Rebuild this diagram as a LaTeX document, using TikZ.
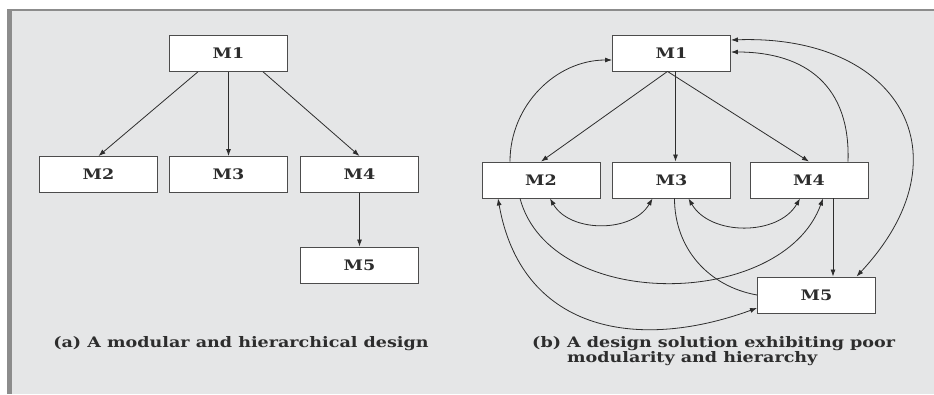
\documentclass[tikz,border=0pt]{standalone}
\usepackage{fontspec}
\setmainfont{DejaVu Serif}
\usepackage{graphicx}
\usetikzlibrary{arrows.meta}
\definecolor{panel-gray}{RGB}{229, 230, 231}
\definecolor{edge-gray}{RGB}{140, 140, 140}
\definecolor{ink}{RGB}{45, 45, 45}
\newcommand{\wide}[1]{\scalebox{1.21}[1]{#1}}

\begin{document}
\begin{tikzpicture}[x=1pt, y=1pt,
    module/.style={draw=ink!85, fill=white, line width=0.9pt, minimum width=118pt,
      minimum height=36pt, inner sep=0pt, font=\fontsize{14.5}{15}\selectfont\bfseries, text=ink},
    call/.style={draw=ink, line width=0.8pt, -{Latex[length=7pt,width=5pt]}},
    mutual/.style={arrows={Latex[length=7pt,width=5pt]-Latex[length=7pt,width=5pt]}},
    caption/.style={font=\fontsize{14.5}{15}\selectfont\bfseries, text=ink, inner sep=0pt}]
  \useasboundingbox (0,0) rectangle (934,-394);
  \fill[white] (0,0) rectangle (934,-394);
  \fill[panel-gray] (7,-10) rectangle (934,-394);
  \fill[edge-gray] (7,-10) rectangle (12,-394);
  \draw[edge-gray, line width=1.2pt] (7,-10) -- (934,-10);

  % (a) modular and hierarchical
  \node[module] (a1) at (228.5,-53.5) {\wide{M1}};
  \node[module] (a2) at (98.5,-174.5) {\wide{M2}};
  \node[module] (a3) at (228.5,-174.5) {\wide{M3}};
  \node[module] (a4) at (359.5,-174.5) {\wide{M4}};
  \node[module] (a5) at (359.5,-265) {\wide{M5}};
  \draw[call] (a1.211) -- (a2.north);
  \draw[call] (a1) -- (a3);
  \draw[call] (a1.332) -- (a4.north);
  \draw[call] (a4) -- (a5);
  \node[caption, anchor=base] (capa) at (241,-347) {\wide{(a) A modular and hierarchical design}};

  % (b) poor modularity
  \node[module] (b1) at (671.5,-53) {\wide{M1}};
  \node[module] (b2) at (541,-180) {\wide{M2}};
  \node[module] (b3) at (671.5,-180) {\wide{M3}};
  \node[module] (b4) at (809,-180) {\wide{M4}};
  \node[module] (b5) at (816.5,-295) {\wide{M5}};
  \draw[call] ([xshift=-4]b1.south) -- (b2.north);
  \draw[call] ([xshift=4]b1.south) -- ([xshift=4]b3.north);
  \draw[call] ([xshift=-4]b1.south) -- (b4.north);
  \draw[call] ([xshift=-31]b2.north) to[out=90, in=180] ([yshift=-7]b1.west);
  \draw[call] ([xshift=39]b4.north) to[out=88, in=0, looseness=1.2] ([yshift=1]b1.east);
  \draw[call, mutual] ([yshift=13]b1.east) to[out=2, in=47, looseness=1.6] ([xshift=40]b5.north);
  \draw[call] ([xshift=24]b4.south) -- ([xshift=24]b4.south |- b5.north);
  \draw[call, mutual] ([xshift=9]b2.south) to[out=-60, in=-120] ([xshift=-19]b3.south);
  \draw[call, mutual] ([xshift=17]b3.south) to[out=-60, in=-120] ([xshift=-9]b4.south);
  \draw[call] ([xshift=-21]b2.south) to[out=-75, in=-110] ([xshift=14]b4.south);
  \draw[call, -] ([xshift=3]b3.south) to[out=-90, in=170] (b5.west);
  \draw[call, mutual] ([xshift=-43]b2.south) to[out=-80, in=200, looseness=1.2] ([yshift=-13]b5.west);
  \node[caption, anchor=base west, align=left] (capb) at (532,-362)
    {\wide{(b) A design solution exhibiting poor}\\\wide{\phantom{(b) }modularity and hierarchy}};
\end{tikzpicture}
\end{document}
